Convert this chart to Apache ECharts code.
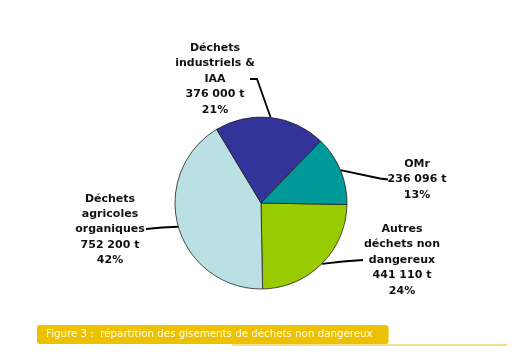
<!DOCTYPE html>
<html><head><meta charset="utf-8">
<script src="https://cdn.jsdelivr.net/npm/echarts@6/dist/echarts.min.js"></script>
<style>html,body{margin:0;padding:0;background:#fff}#c{width:517px;height:356px}</style>
</head><body><div id="c"></div>
<script>
// ---- data ----
const categories = ['Autres\ndéchets non\ndangereux', 'Déchets\nagricoles\norganiques', 'Déchets\nindustriels &\nIAA', 'OMr'];
const tonnages = [441110, 752200, 376000, 236096];
const unit = 't';
const caption = 'Figure 3 :  répartition des gisements de déchets non dangereux';

// ---- style / layout ----
const colors = ['#99CC00', '#BBE0E3', '#333399', '#009999'];
const labelAnchors = [[402, 260], [110, 229.5], [215, 79], [417, 179.5]];
const labelBends = [[[343, 261.5], [363, 260]], [[162, 227.5], [146, 229]], [[257, 79], [250, 79]], [[380, 178.5], [388, 179.5]]];
const pieCenter = [261, 203], pieRadius = 86;

const total = tonnages.reduce((a, b) => a + b, 0);
function fmt(v) { return String(v).replace(/\B(?=(\d{3})+(?!\d))/g, ' '); }

const chart = echarts.init(document.getElementById('c'), null, {renderer: 'canvas'});
chart.setOption({
  animation: false,
  backgroundColor: '#ffffff',
  title: {
    text: caption,
    left: 37, top: 325,
    padding: [4, 16, 4, 9],
    backgroundColor: '#ECC200',
    borderRadius: 3,
    textStyle: {color: '#fffbe8', fontSize: 10.25, fontWeight: 'normal', fontFamily: 'DejaVu Sans', lineHeight: 11}
  },
  graphic: [{
    type: 'line', z: -1, silent: true,
    shape: {x1: 232, y1: 345, x2: 507, y2: 345},
    style: {stroke: '#F3D66A', lineWidth: 1.5}
  }],
  series: [{
    type: 'pie',
    center: pieCenter,
    radius: pieRadius,
    startAngle: -1,
    clockwise: true,
    avoidLabelOverlap: false,
    data: categories.map((n, i) => ({name: n, value: tonnages[i], itemStyle: {color: colors[i]}})),
    itemStyle: {borderColor: '#222', borderWidth: 0.8},
    label: {
      show: true, position: 'outside',
      formatter: p => p.name + '\n' + fmt(p.value) + ' ' + unit + '\n' + Math.round(p.value / total * 100) + '%',
      fontFamily: 'DejaVu Sans', fontWeight: 'bold', fontSize: 11, lineHeight: 15.4,
      color: '#111', align: 'center'
    },
    labelLine: {show: true, length: 10, length2: 10, smooth: false, lineStyle: {color: '#000', width: 1.8}},
    labelLayout: function (params) {
      const i = params.dataIndex;
      let start = params.labelLinePoints && params.labelLinePoints[0];
      if (!start) start = pieCenter;
      return {
        x: labelAnchors[i][0], y: labelAnchors[i][1],
        align: 'center', verticalAlign: 'middle',
        labelLinePoints: [start.slice ? start.slice() : start, labelBends[i][0], labelBends[i][1]]
      };
    }
  }]
});
</script></body></html>
